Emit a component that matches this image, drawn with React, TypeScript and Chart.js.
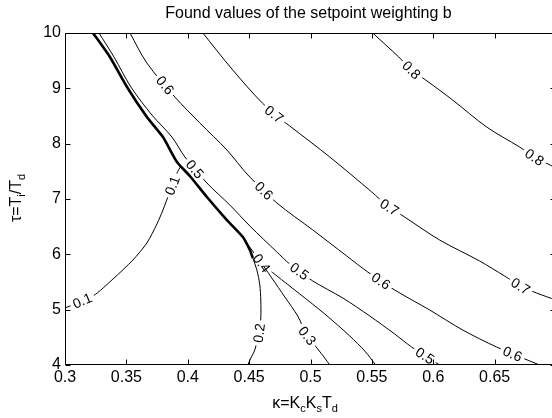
import React, { useEffect, useRef } from 'react';
import { Chart, registerables } from 'chart.js';

Chart.register(...registerables);

const FONT = '"Liberation Sans", Arial, Helvetica, sans-serif';

const chartTitle = 'Found values of the setpoint weighting b';

// thick boundary line (bundle of collapsed contours)
const boundaryKappa = [0.3228, 0.3366, 0.3505, 0.3667, 0.3798, 0.3912, 0.4017, 0.4156, 0.4319, 0.4449, 0.4506, 0.4530];
const boundaryTau = [10, 9.566, 9.024, 8.482, 8.12, 7.669, 7.416, 7.036, 6.62, 6.313, 6.078, 5.934];

const kappa01 = [0.3, 0.3228, 0.3391, 0.3553, 0.3667, 0.3749, 0.3798, 0.3912, 0.3944];
const tau01 = [5.03, 5.247, 5.554, 5.897, 6.205, 6.548, 6.801, 7.47, 7.596];

const kappa02 = [0.453, 0.4563, 0.4587, 0.4595, 0.4595, 0.4579, 0.4546, 0.4514, 0.449];
const tau02 = [5.934, 5.717, 5.446, 5.174, 4.849, 4.578, 4.271, 4.127, 4.0];

const kappa03 = [0.462, 0.4685, 0.4791, 0.4896, 0.497, 0.5059, 0.5116, 0.5157];
const tau03 = [5.78, 5.572, 5.229, 4.885, 4.542, 4.289, 4.126, 4.0];

const kappa04 = [0.4481, 0.4603, 0.4717, 0.4913, 0.5116, 0.532, 0.5442, 0.5531];
const tau04 = [6.205, 5.843, 5.626, 5.283, 4.922, 4.524, 4.253, 4.0];

const kappa05 = [0.3277, 0.3399, 0.3537, 0.3708, 0.3871, 0.3977, 0.4156, 0.4343, 0.4506, 0.4726, 0.4831, 0.5019, 0.5263, 0.5483, 0.5686, 0.5824, 0.6052];
const tau05 = [10, 9.566, 9.024, 8.518, 8.12, 7.759, 7.289, 6.891, 6.512, 6.042, 5.825, 5.518, 5.211, 4.885, 4.56, 4.325, 4.0];

const kappa06 = [0.3529, 0.3667, 0.3895, 0.4099, 0.4319, 0.449, 0.4726, 0.5019, 0.5295, 0.5466, 0.5686, 0.5971, 0.624, 0.6516, 0.6866];
const tau06 = [10, 9.458, 8.843, 8.373, 7.885, 7.434, 6.928, 6.44, 5.97, 5.681, 5.355, 4.994, 4.632, 4.325, 4.0];

const kappa07 = [0.4123, 0.4319, 0.453, 0.4693, 0.4831, 0.5157, 0.5499, 0.5629, 0.5767, 0.6052, 0.6378, 0.6581, 0.6712, 0.6842, 0.7];
const tau07 = [10, 9.458, 8.916, 8.554, 8.319, 7.759, 7.126, 6.873, 6.674, 6.259, 5.879, 5.608, 5.427, 5.301, 5.174];

const kappa08 = [0.5507, 0.5719, 0.5824, 0.5938, 0.6158, 0.6435, 0.6703, 0.6826, 0.7];
const tau08 = [10, 9.566, 9.331, 9.151, 8.789, 8.301, 7.94, 7.759, 7.56];

// inline contour labels
const labelLevels = ['0.1', '0.1', '0.2', '0.3', '0.4', '0.5', '0.5', '0.5', '0.6', '0.6', '0.6', '0.6', '0.7', '0.7', '0.7', '0.8', '0.8'];
const labelKappa = [0.3138, 0.3863, 0.4579, 0.497, 0.4603, 0.405, 0.4905, 0.593, 0.3798, 0.4603, 0.5564, 0.6638, 0.4693, 0.5629, 0.6712, 0.5824, 0.6826];
const labelTau = [5.174, 7.253, 4.578, 4.524, 5.843, 7.524, 5.68, 4.162, 9.024, 7.108, 5.482, 4.162, 8.5, 6.801, 5.427, 9.331, 7.759];

const contourSeries = [
  { level: '0.1', k: kappa01, t: tau01, tension: 0.25 },
  { level: '0.2', k: kappa02, t: tau02, tension: 0.3 },
  { level: '0.3', k: kappa03, t: tau03, tension: 0.3 },
  { level: '0.4', k: kappa04, t: tau04, tension: 0.3 },
  { level: '0.5', k: kappa05, t: tau05, tension: 0.3 },
  { level: '0.6', k: kappa06, t: tau06, tension: 0.3 },
  { level: '0.7', k: kappa07, t: tau07, tension: 0.3 },
  { level: '0.8', k: kappa08, t: tau08, tension: 0.3 },
];

const toPoints = (k: number[], t: number[]) => k.map((x, i) => ({ x, y: t[i] }));

type LabelGeom = { ds: number; x: number; y: number; a: number; text: string; w: number };

const computeLabels = (chart: any): LabelGeom[] => {
  const xs = chart.scales.x;
  const ys = chart.scales.y;
  const ctx = chart.ctx;
  ctx.save();
  ctx.font = `14px ${FONT}`;
  const out: LabelGeom[] = [];
  labelLevels.forEach((lv, i) => {
    const dsIndex = chart.data.datasets.findIndex((d: any) => d.label === lv);
    if (dsIndex < 0) return;
    const meta = chart.getDatasetMeta(dsIndex);
    const pts = meta.data.map((p: any) => ({ x: p.x, y: p.y }));
    const px = xs.getPixelForValue(labelKappa[i]);
    const py = ys.getPixelForValue(labelTau[i]);
    let best = { d: Infinity, x: px, y: py, a: 0 };
    for (let j = 0; j < pts.length - 1; j++) {
      const a = pts[j];
      const b = pts[j + 1];
      const dx = b.x - a.x;
      const dy = b.y - a.y;
      const L2 = dx * dx + dy * dy || 1;
      let tt = ((px - a.x) * dx + (py - a.y) * dy) / L2;
      tt = Math.max(0, Math.min(1, tt));
      const qx = a.x + tt * dx;
      const qy = a.y + tt * dy;
      const d = (qx - px) ** 2 + (qy - py) ** 2;
      if (d < best.d) best = { d, x: qx, y: qy, a: Math.atan2(dy, dx) };
    }
    let ang = best.a;
    if (ang > Math.PI / 2) ang -= Math.PI;
    if (ang <= -Math.PI / 2) ang += Math.PI;
    out.push({ ds: dsIndex, x: best.x, y: best.y, a: ang, text: lv, w: ctx.measureText(lv).width });
  });
  ctx.restore();
  return out;
};

const rectPath = (ctx: CanvasRenderingContext2D, g: LabelGeom, hw: number, hh: number) => {
  const c = Math.cos(g.a);
  const s = Math.sin(g.a);
  const corners = [
    [-hw, -hh],
    [hw, -hh],
    [hw, hh],
    [-hw, hh],
  ].map(([u, v]) => [g.x + u * c - v * s, g.y + u * s + v * c]);
  ctx.moveTo(corners[0][0], corners[0][1]);
  for (let i = 1; i < 4; i++) ctx.lineTo(corners[i][0], corners[i][1]);
  ctx.closePath();
};

const contourLabelPlugin = {
  id: 'contourLabels',
  beforeDatasetsDraw(chart: any) {
    chart.$contourLabels = computeLabels(chart);
    chart.$clipped = new Set<number>();
  },
  beforeDatasetDraw(chart: any, args: any) {
    const labels: LabelGeom[] = (chart.$contourLabels || []).filter((g: LabelGeom) => g.ds === args.index);
    if (!labels.length) return;
    const ctx = chart.ctx;
    ctx.save();
    ctx.beginPath();
    ctx.rect(0, 0, chart.width, chart.height);
    labels.forEach((g) => rectPath(ctx, g, g.w / 2 + 3, 7));
    ctx.clip('evenodd');
    chart.$clipped.add(args.index);
  },
  afterDatasetDraw(chart: any, args: any) {
    if (chart.$clipped && chart.$clipped.has(args.index)) {
      chart.ctx.restore();
      chart.$clipped.delete(args.index);
    }
  },
  afterDatasetsDraw(chart: any) {
    const ctx = chart.ctx;
    (chart.$contourLabels || []).forEach((g: LabelGeom) => {
      ctx.save();
      ctx.translate(g.x, g.y);
      ctx.rotate(g.a);
      ctx.font = `14px ${FONT}`;
      ctx.fillStyle = '#000';
      ctx.textAlign = 'center';
      ctx.textBaseline = 'middle';
      ctx.fillText(g.text, 0, 1);
      ctx.restore();
    });
  },
};

const drawRuns = (ctx: CanvasRenderingContext2D, runs: { t: string; sub?: boolean }[], cx: number, baseline: number) => {
  const widths = runs.map((r) => {
    ctx.font = `${r.sub ? 11 : 16}px ${FONT}`;
    return ctx.measureText(r.t).width;
  });
  const total = widths.reduce((a, b) => a + b, 0);
  let x = cx - total / 2;
  ctx.textAlign = 'left';
  ctx.textBaseline = 'alphabetic';
  runs.forEach((r, i) => {
    ctx.font = `${r.sub ? 11 : 16}px ${FONT}`;
    ctx.fillText(r.t, x, baseline + (r.sub ? 4 : 0));
    x += widths[i];
  });
};

const framePlugin = {
  id: 'frame',
  afterDraw(chart: any) {
    const ctx = chart.ctx;
    const { left, right, top, bottom } = chart.chartArea;
    const L = Math.round(left) + 0.5;
    const R = Math.round(right) - 0.5;
    const T = Math.round(top) + 0.5;
    const B = Math.round(bottom) - 0.5;
    ctx.save();
    ctx.strokeStyle = '#000';
    ctx.lineWidth = 1;
    ctx.beginPath();
    ctx.rect(L, T, R - L, B - T);
    chart.scales.x.ticks.forEach((tk: any) => {
      const x = Math.round(chart.scales.x.getPixelForValue(tk.value)) + 0.5;
      ctx.moveTo(x, B);
      ctx.lineTo(x, B - 5);
      ctx.moveTo(x, T);
      ctx.lineTo(x, T + 5);
    });
    chart.scales.y.ticks.forEach((tk: any) => {
      const y = Math.round(chart.scales.y.getPixelForValue(tk.value)) + 0.5;
      ctx.moveTo(L, y);
      ctx.lineTo(L + 5, y);
      ctx.moveTo(R, y);
      ctx.lineTo(R - 5, y);
    });
    ctx.stroke();

    ctx.fillStyle = '#000';
    ctx.font = `16px ${FONT}`;
    ctx.textAlign = 'center';
    ctx.textBaseline = 'middle';
    ctx.fillText(chartTitle, (left + right) / 2 - 2, 14);

    drawRuns(
      ctx,
      [{ t: 'κ=K' }, { t: 'c', sub: true }, { t: 'K' }, { t: 's', sub: true }, { t: 'T' }, { t: 'd', sub: true }],
      305,
      408
    );

    ctx.save();
    ctx.translate(21, 198);
    ctx.rotate(-Math.PI / 2);
    drawRuns(ctx, [{ t: 'τ=T' }, { t: 'i', sub: true }, { t: '/T' }, { t: 'd', sub: true }], 0, 0);
    ctx.restore();
    ctx.restore();
  },
};

export default function App() {
  const canvasRef = useRef<HTMLCanvasElement | null>(null);

  useEffect(() => {
    if (!canvasRef.current) return;
    const datasets: any[] = [
      {
        label: 'boundary',
        data: toPoints(boundaryKappa, boundaryTau),
        showLine: true,
        borderColor: '#000',
        borderWidth: 2.6,
        pointRadius: 0,
        tension: 0.2,
      },
      ...contourSeries.map((c) => ({
        label: c.level,
        data: toPoints(c.k, c.t),
        showLine: true,
        borderColor: '#000',
        borderWidth: 1,
        pointRadius: 0,
        tension: c.tension,
      })),
    ];
    const chart = new Chart(canvasRef.current, {
      type: 'scatter',
      data: { datasets },
      options: {
        animation: false,
        responsive: false,
        maintainAspectRatio: false,
        events: [],
        layout: { padding: { top: 33, right: 4, left: 0, bottom: 0 } },
        plugins: { legend: { display: false }, tooltip: { enabled: false }, title: { display: false } },
        scales: {
          x: {
            type: 'linear',
            min: 0.3,
            max: 0.7,
            grid: { display: false, drawTicks: false },
            border: { display: false },
            ticks: {
              stepSize: 0.05,
              autoSkip: false,
              maxRotation: 0,
              color: '#000',
              padding: 3,
              font: { family: FONT, size: 16 },
              callback: (v: any) => (v > 0.69 ? '' : String(Math.round(Number(v) * 100) / 100)),
            },
            afterFit: (s: any) => {
              s.height = 53;
            },
          },
          y: {
            type: 'linear',
            min: 4,
            max: 10,
            grid: { display: false, drawTicks: false },
            border: { display: false },
            ticks: {
              stepSize: 1,
              color: '#000',
              padding: 4,
              font: { family: FONT, size: 16 },
            },
            afterFit: (s: any) => {
              s.width = 65;
            },
          },
        },
      },
      plugins: [contourLabelPlugin, framePlugin],
    } as any);
    return () => chart.destroy();
  }, []);

  return (
    <div style={{ position: 'fixed', left: 0, top: 0, width: 552, height: 418, overflow: 'hidden', background: '#fff' }}>
      <canvas ref={canvasRef} width={560} height={418} style={{ display: 'block', width: 560, height: 418 }} />
    </div>
  );
}
